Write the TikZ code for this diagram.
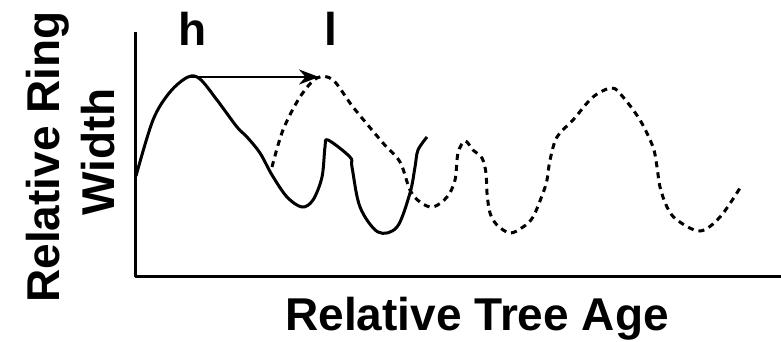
\documentclass[tikz,border=0pt]{standalone}
\usepackage{fontspec}
\setmainfont{Liberation Sans}
\usetikzlibrary{arrows.meta}
\begin{document}
\begin{tikzpicture}[x=1pt,y=-1pt,
  lbl/.style={font=\fontsize{46}{50}\selectfont\bfseries, inner sep=0pt},
  ln/.style={line width=3pt, line join=round},
  dsh/.style={line width=3pt, dash pattern=on 6pt off 5pt}]
\useasboundingbox (0,0) rectangle (781,341);
% axes
\coordinate (top) at (135,32);
\coordinate (org) at (135,276);
\coordinate (right) at (781,276);
\draw[ln] (top) -- (org) -- (right);
% labels
\node[lbl, anchor=base] (h) at (193,45) {h};
\node[lbl, anchor=base] (l) at (331,45) {l};
\node[lbl, anchor=base, rotate=90] (ylab1) at (59,157) {Relative Ring};
\node[lbl, anchor=base, rotate=90] (ylab2) at (114,152) {Width};
\node[lbl, anchor=base] (xlab) at (477,330) {Relative Tree Age};
% solid curve
\draw[ln] plot[smooth, tension=0.55] coordinates {
 (136,176) (153,120) (170,92) (188,77) (200,79) (217,100) (237,127) (247,137)
 (260,153) (272,175) (287,197) (302,207) (313,200) (322,177) (325,147) (328,140)
 (350,157) (352,167) (360,207) (378,232) (397,227) (410,193) (415,167) (418,150) (427,137)};
% dashed curve
\draw[dsh] plot[smooth, tension=0.55] coordinates {
 (272,167) (283,130) (300,97) (317,78) (333,80) (353,107) (383,143) (400,162)
 (410,190) (420,202) (433,207) (447,197) (455,180) (458,153) (465,141) (473,150)
 (482,158) (486,173) (487,193) (490,213) (497,225) (510,233) (523,227) (533,217)
 (543,193) (547,180) (550,160) (557,137) (573,120) (593,97) (612,88) (623,97)
 (640,120) (653,147) (657,167) (660,187) (667,207) (677,220) (700,231) (720,217) (740,188)};
% arrow
\coordinate (a1) at (188,77);
\coordinate (a2) at (319,77);
\draw[line width=2.4pt, -{Stealth[length=20pt,width=15pt]}] (a1) -- (a2);
\end{tikzpicture}
\end{document}
